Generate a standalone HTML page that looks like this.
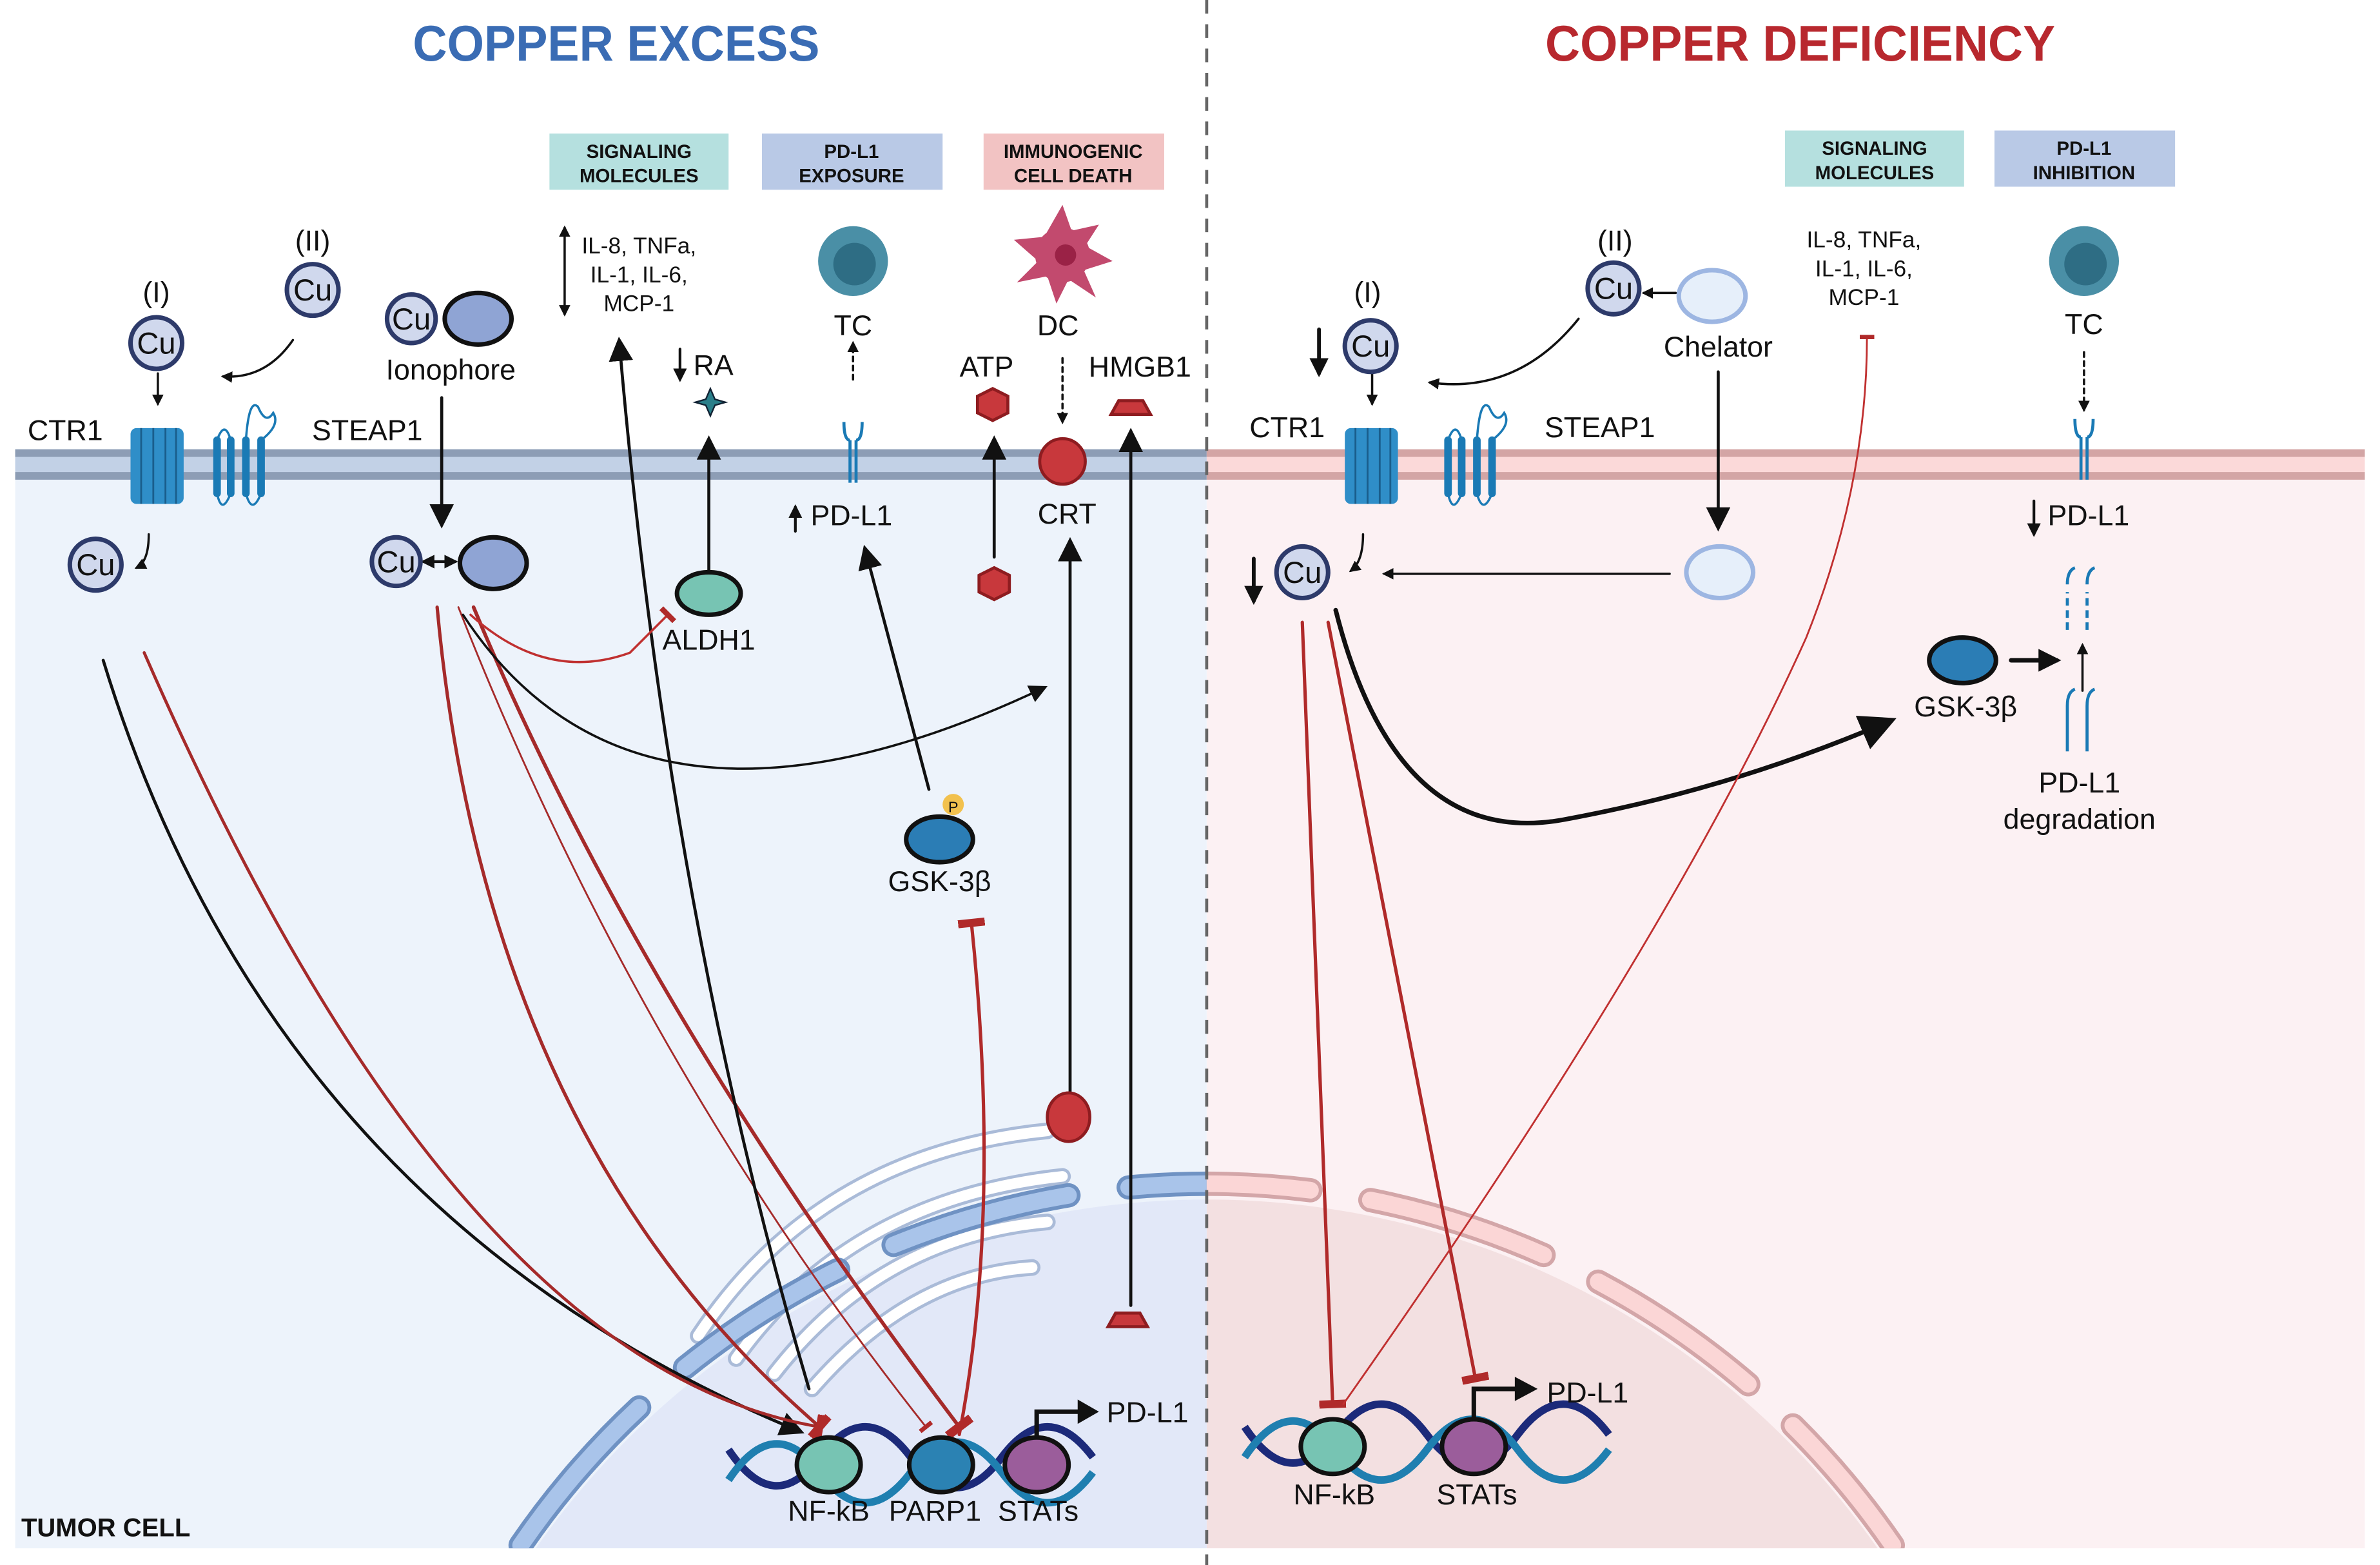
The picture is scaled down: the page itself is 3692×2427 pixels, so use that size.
<!DOCTYPE html>
<html><head><meta charset="utf-8"><style>
html,body{margin:0;padding:0;background:#fff;width:3692px;height:2427px;overflow:hidden;position:relative}
svg{display:block;position:absolute;left:0;top:0;width:3692px;height:2427px;overflow:hidden}
text{font-family:"Liberation Sans",sans-serif;fill:#111}
</style></head><body>
<svg width="3692" height="2427" viewBox="0 0 1568 1031" preserveAspectRatio="none" xmlns="http://www.w3.org/2000/svg">
<defs>
<marker id="ah" viewBox="0 0 10 10" refX="8" refY="5" markerWidth="5" markerHeight="5" orient="auto-start-reverse"><path d="M0,0L10,5L0,10z" fill="#111"/></marker>
<marker id="ahs" viewBox="0 0 10 10" refX="8" refY="5" markerWidth="8" markerHeight="8" orient="auto-start-reverse"><path d="M0,0L10,5L0,10z" fill="#111"/></marker>
<marker id="tb" viewBox="0 0 10 10" refX="5" refY="5" markerWidth="8" markerHeight="8" orient="auto"><path d="M5,-2V12" stroke="#b02a2a" stroke-width="3"/></marker>
<clipPath id="cl"><rect x="10" y="300" width="785" height="720"/></clipPath>
<clipPath id="cr"><rect x="795" y="300" width="763" height="720"/></clipPath>
</defs>
<rect width="1568" height="1031" fill="#fff"/>
<rect x="10" y="300" width="785" height="720" fill="#edf3fb"/>
<rect x="795" y="300" width="763" height="720" fill="#fcf1f3"/>
<path d="M353,1020 A540,540 0 0 1 1237,1020 Z" fill="#e2e8f8" clip-path="url(#cl)"/>
<path d="M353,1020 A540,540 0 0 1 1237,1020 Z" fill="#f3e0e1" clip-path="url(#cr)"/>
<g fill="none" stroke="#aabbd8" stroke-width="11" stroke-linecap="round" clip-path="url(#cl)">
<path d="M460,880 Q540,760 690,745"/><path d="M485,895 Q560,790 700,775"/><path d="M510,905 Q580,815 690,805"/><path d="M535,915 Q600,840 680,835"/>
</g>
<g fill="none" stroke="#fff" stroke-width="7" stroke-linecap="round" clip-path="url(#cl)">
<path d="M460,880 Q540,760 690,745"/><path d="M485,895 Q560,790 700,775"/><path d="M510,905 Q580,815 690,805"/><path d="M535,915 Q600,840 680,835"/>
</g>
<g fill="none" stroke-dasharray="120 40" stroke-linecap="round">
<path d="M343,1018 A548,548 0 0 1 1247,1018" stroke="#6f92c3" stroke-width="16" clip-path="url(#cl)"/>
<path d="M343,1018 A548,548 0 0 1 1247,1018" stroke="#a9c4ea" stroke-width="11" clip-path="url(#cl)"/>
<path d="M343,1018 A548,548 0 0 1 1247,1018" stroke="#d3a6a8" stroke-width="16" clip-path="url(#cr)"/>
<path d="M343,1018 A548,548 0 0 1 1247,1018" stroke="#fbd6d6" stroke-width="11" clip-path="url(#cr)"/>
</g>
<rect x="10" y="296" width="785" height="20" fill="#c2d1e6"/>
<rect x="10" y="296" width="785" height="5" fill="#8d9db5"/><rect x="10" y="311" width="785" height="5" fill="#8d9db5"/>
<rect x="795" y="296" width="763" height="20" fill="#fbd9d9"/>
<rect x="795" y="296" width="763" height="5" fill="#d3a5a5"/><rect x="795" y="311" width="763" height="5" fill="#d3a5a5"/>
<line x1="795" y1="0" x2="795" y2="1031" stroke="#666" stroke-width="2" stroke-dasharray="9 7"/>
<text x="406" y="40" font-size="33" font-weight="bold" text-anchor="middle" style="fill:#3a6cb4" textLength="268" lengthAdjust="spacingAndGlyphs">COPPER EXCESS</text>
<text x="1186" y="40" font-size="33" font-weight="bold" text-anchor="middle" style="fill:#b8282e" textLength="336" lengthAdjust="spacingAndGlyphs">COPPER DEFICIENCY</text>
<g font-size="12.5" font-weight="bold" text-anchor="middle">
<rect x="362" y="88" width="118" height="37" fill="#b5e0df"/><text x="421" y="104">SIGNALING</text><text x="421" y="120">MOLECULES</text>
<rect x="502" y="88" width="119" height="37" fill="#b9c9e6"/><text x="561" y="104">PD-L1</text><text x="561" y="120">EXPOSURE</text>
<rect x="648" y="88" width="119" height="37" fill="#f2c3c3"/><text x="707" y="104">IMMUNOGENIC</text><text x="707" y="120">CELL DEATH</text>
<rect x="1176" y="86" width="118" height="37" fill="#b5e0df"/><text x="1235" y="102">SIGNALING</text><text x="1235" y="118">MOLECULES</text>
<rect x="1314" y="86" width="119" height="37" fill="#b9c9e6"/><text x="1373" y="102">PD-L1</text><text x="1373" y="118">INHIBITION</text>
</g>
<g fill="none" stroke-linecap="round">
<path d="M68,435 Q180,800 527,943" stroke="#111" stroke-width="2" marker-end="url(#ahs)"/>
<path d="M95,430 Q300,900 540,940" stroke="#a52a2a" stroke-width="2" marker-end="url(#tb)"/>
<path d="M288,400 Q320,750 540,940" stroke="#a52a2a" stroke-width="2.2" marker-end="url(#tb)"/>
<path d="M302,400 Q420,700 610,940" stroke="#a52a2a" stroke-width="1.2" marker-end="url(#tb)"/>
<path d="M312,400 Q420,660 632,940" stroke="#a52a2a" stroke-width="2.4" marker-end="url(#tb)"/>
<path d="M533,915 Q440,600 408,225" stroke="#111" stroke-width="2" marker-end="url(#ahs)"/>
<path d="M305,405 Q420,580 688,453" stroke="#111" stroke-width="1.5" marker-end="url(#ahs)"/>
<path d="M310,405 Q360,450 415,430 L440,405" stroke="#c03030" stroke-width="1.5" marker-end="url(#tb)"/>
<path d="M632,945 Q660,800 640,608" stroke="#b02a2a" stroke-width="2.2" marker-end="url(#tb)"/>
<path d="M612,520 L570,362" stroke="#111" stroke-width="2" marker-end="url(#ahs)"/>
<path d="M705,720 L705,357" stroke="#111" stroke-width="2" marker-end="url(#ahs)"/>
<path d="M745,860 L745,285" stroke="#111" stroke-width="2" marker-end="url(#ahs)"/>
<path d="M655,367 L655,290" stroke="#111" stroke-width="2" marker-end="url(#ahs)"/>
<path d="M467,376 L467,290" stroke="#111" stroke-width="2" marker-end="url(#ahs)"/>
<path d="M291,262 L291,345" stroke="#111" stroke-width="2" marker-end="url(#ahs)"/>
<path d="M193,224 Q175,250 147,248" stroke="#111" stroke-width="1.5" marker-end="url(#ah)"/>
<path d="M104,246 L104,266" stroke="#111" stroke-width="1.5" marker-end="url(#ah)"/>
<path d="M98,352 Q98,370 90,374" stroke="#111" stroke-width="1.5" marker-end="url(#ah)"/>
<path d="M562,250 L562,226" stroke="#111" stroke-width="1.5" stroke-dasharray="3 3" marker-end="url(#ah)"/>
<path d="M700,236 L700,278" stroke="#111" stroke-width="1.5" stroke-dasharray="3 3" marker-end="url(#ah)"/>
<path d="M372,150 L372,207" stroke="#111" stroke-width="1.5" marker-end="url(#ah)" marker-start="url(#ah)"/>
<path d="M448,230 L448,250" stroke="#111" stroke-width="1.8" marker-end="url(#ah)"/>
<path d="M524,350 L524,334" stroke="#111" stroke-width="1.8" marker-end="url(#ah)"/>
<path d="M279,370 L300,370" stroke="#111" stroke-width="1.8" marker-end="url(#ah)" marker-start="url(#ah)"/>
<path d="M880,402 Q920,560 1030,540 Q1140,520 1245,475" stroke="#111" stroke-width="3" marker-end="url(#ahs)"/>
<path d="M858,410 L878,925" stroke="#b02a2a" stroke-width="2.2" marker-end="url(#tb)"/>
<path d="M875,410 L972,908" stroke="#b02a2a" stroke-width="2.2" marker-end="url(#tb)"/>
<path d="M885,925 Q1100,620 1190,420 Q1230,320 1230,222" stroke="#c03030" stroke-width="1.2" marker-end="url(#tb)"/>
<path d="M1040,210 Q1000,260 942,252" stroke="#111" stroke-width="1.5" marker-end="url(#ah)"/>
<path d="M1104,193 L1083,193" stroke="#111" stroke-width="1.5" marker-end="url(#ah)"/>
<path d="M1132,245 L1132,347" stroke="#111" stroke-width="2" marker-end="url(#ahs)"/>
<path d="M1100,378 L912,378" stroke="#111" stroke-width="1.5" marker-end="url(#ah)"/>
<path d="M904,246 L904,266" stroke="#111" stroke-width="1.5" marker-end="url(#ah)"/>
<path d="M898,352 Q898,370 890,376" stroke="#111" stroke-width="1.5" marker-end="url(#ah)"/>
<path d="M869,217 L869,246" stroke="#111" stroke-width="2.5" marker-end="url(#ah)"/>
<path d="M826,368 L826,396" stroke="#111" stroke-width="2.5" marker-end="url(#ah)"/>
<path d="M1340,330 L1340,352" stroke="#111" stroke-width="1.8" marker-end="url(#ah)"/>
<path d="M1373,232 L1373,270" stroke="#111" stroke-width="1.5" stroke-dasharray="3 3" marker-end="url(#ah)"/>
<path d="M1325,435 L1355,435" stroke="#111" stroke-width="3" marker-end="url(#ah)"/>
<path d="M1372,455 L1372,425" stroke="#111" stroke-width="1.5" marker-end="url(#ah)"/>
</g>
<g fill="#d0d8ed" stroke="#2d3a6a" stroke-width="3">
<circle cx="103" cy="226" r="17"/><circle cx="206" cy="191" r="17"/><circle cx="271" cy="210" r="16"/><circle cx="261" cy="370" r="16"/><circle cx="63" cy="372" r="17"/>
<circle cx="903" cy="228" r="17"/><circle cx="1063" cy="190" r="17"/><circle cx="858" cy="377" r="17"/>
</g>
<g fill="#8fa4d4" stroke="#111" stroke-width="3"><ellipse cx="315" cy="210" rx="22" ry="17"/><ellipse cx="325" cy="371" rx="22" ry="17"/></g>
<g fill="#e6effa" stroke="#9db6e2" stroke-width="3"><ellipse cx="1128" cy="195" rx="22" ry="17"/><ellipse cx="1133" cy="377" rx="22" ry="17"/></g>
<g font-size="20" text-anchor="middle">
<text x="103" y="233">Cu</text><text x="206" y="198">Cu</text><text x="271" y="217">Cu</text><text x="261" y="377">Cu</text><text x="63" y="379">Cu</text>
<text x="903" y="235">Cu</text><text x="1063" y="197">Cu</text><text x="858" y="384">Cu</text>
</g>
<g>
<rect x="86" y="282" width="35" height="50" rx="4" fill="#2f8ec8"/><g stroke="#1a5e8c" stroke-width="1.2"><line x1="93" y1="282" x2="93" y2="332"/><line x1="101" y1="282" x2="101" y2="332"/><line x1="109" y1="282" x2="109" y2="332"/><line x1="116" y1="282" x2="116" y2="332"/></g>
<rect x="886" y="282" width="35" height="50" rx="4" fill="#2f8ec8"/><g stroke="#1a5e8c" stroke-width="1.2"><line x1="893" y1="282" x2="893" y2="332"/><line x1="901" y1="282" x2="901" y2="332"/><line x1="909" y1="282" x2="909" y2="332"/><line x1="916" y1="282" x2="916" y2="332"/></g>
<g fill="none" stroke="#1a7ab5" stroke-width="5" stroke-linecap="round">
<path d="M143,290V325M152,290V325M162,290V325M172,290V325"/>
<path d="M954,290V325M963,290V325M973,290V325M983,290V325"/>
</g>
<g fill="none" stroke="#1a7ab5" stroke-width="1.5"><path d="M143,290Q148,276 152,290M162,290Q164,262 170,268Q175,280 180,272Q185,280 172,290M143,325Q146,340 152,325M162,325Q166,340 172,325"/>
<path d="M954,290Q959,276 963,290M973,290Q975,262 981,268Q986,280 991,272Q996,280 983,290M954,325Q957,340 963,325M973,325Q977,340 983,325"/></g>
</g>
<g fill="none" stroke="#1a7ab5" stroke-width="2">
<path d="M560,318V290M564,318V290M556,278Q556,290 560,290M568,278Q568,290 564,290"/>
<path d="M1371,316V288M1375,316V288M1367,276Q1367,288 1371,288M1379,276Q1379,288 1375,288"/>
<path d="M1362,415V390M1375,415V390" stroke-dasharray="5 3"/><path d="M1362,385Q1362,376 1367,374M1375,385Q1375,376 1380,374"/>
<path d="M1362,495V465M1375,495V465M1362,465Q1362,456 1367,454M1375,465Q1375,456 1380,454"/>
</g>
<circle cx="562" cy="172" r="23" fill="#4a8fa6"/><circle cx="563" cy="174" r="14" fill="#2e6d84"/>
<circle cx="1373" cy="172" r="23" fill="#4a8fa6"/><circle cx="1374" cy="174" r="14" fill="#2e6d84"/>
<g fill="#c24a6e"><circle cx="700" cy="168" r="18"/><path d="M700,135L706,152L724,148L715,162L733,172L714,178L722,196L704,184L696,200L690,182L670,186L684,172L668,158L688,156Z"/></g>
<circle cx="702" cy="168" r="7" fill="#9a2246"/>
<g fill="#c8383c" stroke="#8e1c20" stroke-width="2">
<polygon points="654,256 664,261 664,272 654,277 644,272 644,261"/>
<polygon points="655,374 665,379 665,390 655,395 645,390 645,379"/>
<circle cx="700" cy="304" r="15"/>
<ellipse cx="704" cy="736" rx="14" ry="16"/>
<polygon points="737,264 753,264 758,273 732,273"/>
<polygon points="735,865 751,865 756,874 730,874"/>
</g>
<path d="M468,256L471,263L478,265L471,267L468,274L465,267L458,265L465,263Z" fill="#2a7f8a" stroke="#123" stroke-width="1"/>
<ellipse cx="467" cy="391" rx="21" ry="14" fill="#77c4b3" stroke="#111" stroke-width="3"/>
<ellipse cx="619" cy="553" rx="22" ry="15" fill="#2b7db5" stroke="#111" stroke-width="3"/>
<circle cx="628" cy="530" r="7" fill="#f2c14e"/><text x="628" y="535" font-size="10" text-anchor="middle">P</text>
<ellipse cx="1293" cy="435" rx="22" ry="15" fill="#2b7db5" stroke="#111" stroke-width="3"/>
<g fill="none" stroke-width="5">
<path d="M480,955 Q510,1000 540,960 T600,960 T660,960 T720,960" stroke="#1c2a7a"/>
<path d="M480,975 Q510,930 540,970 T600,970 T660,970 T720,970" stroke="#1f7fb0"/>
<path d="M820,940 Q850,985 880,945 T940,945 T1000,945 T1060,945" stroke="#1c2a7a"/>
<path d="M820,960 Q850,915 880,955 T940,955 T1000,955 T1060,955" stroke="#1f7fb0"/>
</g>
<g fill="none" stroke="#111" stroke-width="3">
<ellipse cx="546" cy="965" rx="21" ry="18" fill="#77c4b3"/><ellipse cx="620" cy="965" rx="21" ry="18" fill="#2b82b3"/><ellipse cx="683" cy="965" rx="21" ry="18" fill="#9b5d9b"/>
<ellipse cx="878" cy="953" rx="21" ry="18" fill="#77c4b3"/><ellipse cx="971" cy="953" rx="21" ry="18" fill="#9b5d9b"/>
<path d="M683,947V930H712"/><path d="M971,935V915H1000"/>
</g>
<polygon points="710,922 724,930 710,938" fill="#111"/><polygon points="998,907 1013,915 998,923" fill="#111"/>
<g font-size="19" text-anchor="middle">
<text x="103" y="199">(I)</text><text x="206" y="165">(II)</text><text x="901" y="199">(I)</text><text x="1064" y="165">(II)</text>
<text x="43" y="290">CTR1</text><text x="242" y="290">STEAP1</text><text x="297" y="250">Ionophore</text>
<text x="848" y="288">CTR1</text><text x="1054" y="288">STEAP1</text><text x="1132" y="235">Chelator</text>
<text x="470" y="247">RA</text><text x="467" y="428">ALDH1</text><text x="562" y="221">TC</text><text x="561" y="346">PD-L1</text>
<text x="650" y="248">ATP</text><text x="697" y="221">DC</text><text x="751" y="248">HMGB1</text><text x="703" y="345">CRT</text>
<text x="619" y="587">GSK-3β</text>
<text x="546" y="1002">NF-kB</text><text x="616" y="1002">PARP1</text><text x="684" y="1002">STATs</text><text x="756" y="937">PD-L1</text>
<text x="1373" y="220">TC</text><text x="1376" y="346">PD-L1</text><text x="1295" y="472">GSK-3β</text>
<text x="1370" y="522">PD-L1</text><text x="1370" y="546">degradation</text>
<text x="879" y="991">NF-kB</text><text x="973" y="991">STATs</text><text x="1046" y="924">PD-L1</text>
</g>
<g font-size="15" text-anchor="middle">
<text x="421" y="167">IL-8, TNFa,</text><text x="421" y="186">IL-1, IL-6,</text><text x="421" y="205">MCP-1</text>
<text x="1228" y="163">IL-8, TNFa,</text><text x="1228" y="182">IL-1, IL-6,</text><text x="1228" y="201">MCP-1</text>
</g>
<text x="14" y="1012" font-size="17" font-weight="bold">TUMOR CELL</text>
</svg>
</body></html>
